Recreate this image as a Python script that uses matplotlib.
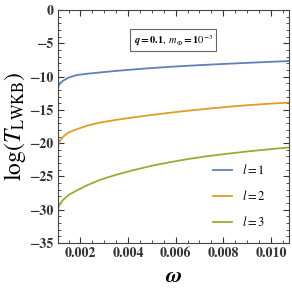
import matplotlib
matplotlib.use("Agg")
import matplotlib.pyplot as plt
from matplotlib.ticker import MultipleLocator

plt.rcParams['mathtext.fontset'] = 'stix'
plt.rcParams['font.family'] = 'STIXGeneral'

# values
omega = [0.00105, 0.00109, 0.00116, 0.00128, 0.00150, 0.00185, 0.00230, 0.00283,
         0.00350, 0.00423, 0.00500, 0.00570, 0.00650, 0.00730, 0.00815, 0.00900,
         0.00990, 0.01075]
logT_l1 = [-11.9, -11.3, -10.9, -10.6, -10.15, -9.76, -9.56, -9.37,
           -9.14, -8.92, -8.71, -8.54, -8.37, -8.22, -8.07, -7.93,
           -7.79, -7.66]
logT_l2 = [-20.8, -20.0, -19.5, -19.0, -18.4, -17.9, -17.35, -16.9,
           -16.5, -16.12, -15.76, -15.45, -15.13, -14.84, -14.55, -14.3,
           -14.08, -13.9]
logT_l3 = [-30.3, -29.5, -29.0, -28.5, -27.8, -27.1, -26.3, -25.5,
           -24.75, -24.05, -23.4, -22.9, -22.4, -21.97, -21.6, -21.25,
           -20.93, -20.65]
labels = [r'$l=1$', r'$l=2$', r'$l=3$']
colors = ['#5E81B5', '#E19C24', '#8FB032']

fig = plt.figure(figsize=(2.92, 2.97), dpi=100)
ax = fig.add_axes([0.198, 0.182, 0.791, 0.784])

for ys, lab, c in zip([logT_l1, logT_l2, logT_l3], labels, colors):
    ax.plot(omega, ys, color=c, lw=1.3, label=lab)

ax.set_xlim(0.00105, 0.01075)
ax.set_ylim(-35, 0)
ax.xaxis.set_major_locator(MultipleLocator(0.002))
ax.xaxis.set_minor_locator(MultipleLocator(0.0005))
ax.yaxis.set_major_locator(MultipleLocator(5))
ax.yaxis.set_minor_locator(MultipleLocator(1))
ax.xaxis.set_major_formatter(plt.FuncFormatter(lambda v, p: '%.3f' % v))
ax.tick_params(which='both', direction='in', top=True, right=True,
               labelsize=10, colors='#333333', pad=3)
ax.tick_params(which='major', length=4, width=0.8)
ax.tick_params(which='minor', length=2, width=0.6)
for lbl in ax.get_xticklabels() + ax.get_yticklabels():
    lbl.set_fontweight('bold')
for s in ax.spines.values():
    s.set_color('#444444')
    s.set_linewidth(0.8)

ax.set_xlabel(r'$\boldsymbol{\omega}$', fontsize=16, labelpad=5)
ax.set_ylabel(r'$\mathrm{log}(T_{\mathrm{LWKB}})$', fontsize=17, labelpad=1)

ax.text(0.5, 0.87, r'$\boldsymbol{q=0.1,\ m_{\Phi}=10^{-3}}$', transform=ax.transAxes,
        ha='center', va='center', fontsize=7.5,
        bbox=dict(boxstyle='square,pad=0.35', fc='white', ec='#666666', lw=0.8))

ax.legend(loc='upper left', bbox_to_anchor=(0.625, 0.39), frameon=False,
          fontsize=9, handlelength=1.45, handletextpad=0.8, labelspacing=0.95,
          borderpad=0.4)

fig.savefig('out.png', dpi=100)
